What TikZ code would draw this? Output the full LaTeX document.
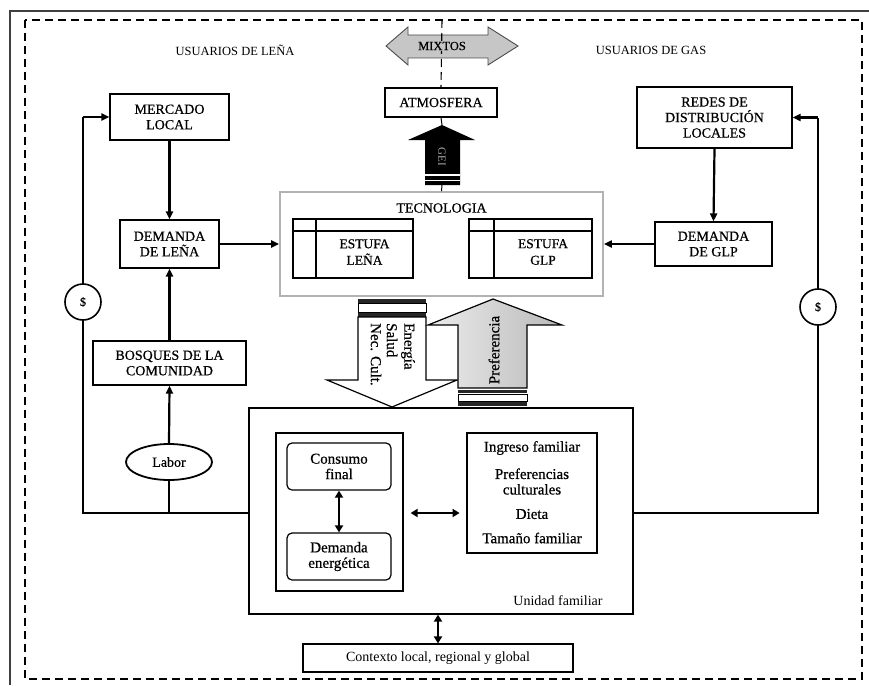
\documentclass[tikz,border=0pt]{standalone}
\usepackage{fontspec}
\setmainfont{Liberation Serif}
\newfontfamily\heavyfont{Liberation Serif}[FakeBold=0.6]
\usetikzlibrary{arrows.meta,shapes.geometric}
\newcommand\capsfnt{\heavyfont\fontsize{14}{15.5}\selectfont}
\newcommand\topfnt{\fontsize{12.5}{14}\selectfont}
\newcommand\lowfnt{\heavyfont\fontsize{15}{15.5}\selectfont}
\newcommand\rotfnt{\heavyfont\fontsize{15}{16}\selectfont}
\begin{document}
\begin{tikzpicture}[x=1pt,y=-1pt,
  box/.style={draw, line width=1.2pt, rectangle, inner sep=0pt, align=center, font=\capsfnt},
  rbox/.style={draw, line width=1.2pt, rectangle, rounded corners=5pt, inner sep=0pt, align=center, font=\lowfnt},
  lowtxt/.style={inner sep=0pt, align=center, font=\lowfnt},
  toplbl/.style={inner sep=0pt, font=\topfnt},
  frameline/.style={line width=1.2pt, black!75},
  dashfr/.style={line width=1.3pt, dash pattern=on 8pt off 5pt},
  conn/.style={line width=2.2pt, -{Triangle[length=8pt,width=7pt]}},
  fb/.style={line width=2.2pt},
  dconn/.style={line width=2.6pt, {Triangle[length=7pt,width=8pt]}-{Triangle[length=7pt,width=8pt]}},
  dollar/.style={draw, circle, line width=1.6pt, fill=white, minimum size=36pt, inner sep=0pt, font=\heavyfont\fontsize{12}{12}\selectfont},
]
\useasboundingbox (0,0) rectangle (869,685);

% outer frames
\draw[frameline] (10,685) -- (10,11) -- (869,11);
\draw[dashfr] (25,20) rectangle (862,679);

% top labels
\node[toplbl] (ulena) at (235,50) {USUARIOS DE LEÑA};
\node[toplbl] (ugas) at (651,50) {USUARIOS DE GAS};

% MIXTOS double arrow
\path[draw=black!70, fill=gray!45, line width=0.9pt]
  (386,46) -- (408,27) -- (408,35) -- (488,35) -- (488,27) -- (518,46)
  -- (488,65) -- (488,58) -- (408,58) -- (408,65) -- cycle;
\coordinate (dtop) at (442,20);

% boxes
\node[box, minimum width=112, minimum height=29] (atmos) at (441,102.5) {ATMOSFERA};
\draw[dashfr, line width=1.1pt] (dtop) -- (atmos.north);
\node[inner sep=1pt, fill=gray!45, font=\heavyfont\fontsize{12.5}{14}\selectfont] (mixtos) at (442,46) {MIXTOS};

% GEI arrow
\coordinate (geitip) at (442,125);
\coordinate (geibase) at (442,185);
\fill[black] (425,185) -- (425,140) -- (408,140) -- (geitip) -- (475,140) -- (460,140) -- (460,185) -- cycle;
\draw[white, line width=1.2pt] (425,175) -- (460,175) (425,180.5) -- (460,180.5);
\node[rotate=-90, text=gray!65, inner sep=0pt, font=\fontsize{11}{12}\selectfont] (gei) at (442,157) {GEI};
\draw[line width=1pt] (atmos.south) -- (geitip);

\node[box, draw=gray!60, line width=1.8pt, minimum width=323, minimum height=104] (tecno) at (441.5,244) {};
\draw[line width=1pt] (geibase) -- (tecno.north);
\node[inner sep=0pt, font=\capsfnt] (tectxt) at (441.5,208) {TECNOLOGIA};

% stoves
\node[box, minimum width=120, minimum height=59] (estl) at (353,248.5) {};
\draw[line width=1.2pt] (293,231) -- (413,231) (316,219) -- (316,278);
\node[inner sep=0pt, align=center, font=\heavyfont\fontsize{13.5}{16.5}\selectfont] (estltxt) at (364.5,252) {ESTUFA\\LEÑA};
\node[box, minimum width=123, minimum height=59] (estg) at (530.5,248.5) {};
\draw[line width=1.2pt] (469,231) -- (592,231) (494,219) -- (494,278);
\node[inner sep=0pt, align=center, font=\heavyfont\fontsize{13.5}{16.5}\selectfont] (estgtxt) at (543,252) {ESTUFA\\GLP};

% left side
\node[box, minimum width=119, minimum height=46] (mercado) at (169.5,117) {MERCADO\\LOCAL};
\node[box, minimum width=99, minimum height=48] (demlena) at (169.5,244) {DEMANDA\\DE LEÑA};
\node[box, minimum width=153, minimum height=44] (bosques) at (169.5,363) {BOSQUES DE LA\\COMUNIDAD};
\node[draw, ellipse, line width=1.8pt, minimum width=86, minimum height=36, inner sep=0pt, font=\heavyfont\fontsize{14}{15}\selectfont] (labor) at (169,462) {Labor};

% right side
\node[box, minimum width=155, minimum height=61] (redes) at (714.5,117.5) {REDES DE\\DISTRIBUCIÓN\\LOCALES};
\node[box, minimum width=117, minimum height=44] (demglp) at (713.5,244) {DEMANDA\\DE GLP};

% household
\node[box, minimum width=384, minimum height=206] (unidad) at (441,511) {};
\node[inner sep=0pt, font=\fontsize{14}{15}\selectfont] (unitxt) at (558,601) {Unidad familiar};
\node[box, minimum width=127, minimum height=158] (innerl) at (339.5,512) {};
\node[rbox, minimum width=104, minimum height=47] (consumo) at (339,466.5) {Consumo\\final};
\node[rbox, minimum width=104, minimum height=47] (demener) at (339,556.5) {Demanda\\energética};
\node[box, minimum width=130, minimum height=120] (innerr) at (532,493) {};
\node[lowtxt] (ingreso) at (532,448) {Ingreso familiar};
\node[lowtxt] (prefcult) at (532,481.5) {Preferencias\\culturales};
\node[lowtxt] (dieta) at (532,514) {Dieta};
\node[lowtxt] (tamano) at (532,538) {Tamaño familiar};

\node[box, line width=1.1pt, minimum width=270, minimum height=28, font=\fontsize{14}{15}\selectfont] (contexto) at (438,658) {Contexto local, regional y global};

% connectors
\draw[conn] (mercado.south) -- (demlena.north);
\draw[conn] (bosques.north) -- (demlena.south);
\draw[conn] (labor.north) -- (bosques.south);
\draw[conn] (demlena.east) -- (tecno.west);
\draw[conn] (redes.south) -- (demglp.north);
\draw[conn] (demglp.west) -- (tecno.east);

\draw[dconn] (consumo.south) -- (demener.north);
\draw[dconn] (innerl.east |- 0,513) ++(7,0) coordinate (ha) -- ++(49,0) coordinate (hb);
\draw[dconn] (unidad.south -| contexto.north) -- (contexto.north);

% feedback loops
\coordinate (lc) at (83,513);
\coordinate (rc) at (818,513);
\draw[fb] (unidad.west |- lc) -- (lc) -- (lc |- mercado.west);
\draw[conn] (lc |- mercado.west) -- (mercado.west);
\draw[fb] (labor.south) -- (labor.south |- lc);
\draw[fb] (unidad.east |- rc) -- (rc) -- (rc |- redes.east);
\draw[conn] (rc |- redes.east) -- (redes.east);
\node[dollar] (dl) at (83,302) {\$};
\node[dollar] (dr) at (818,307) {\$};

% down arrow (white)
\fill[black!85] (358,299) rectangle (426,302.5);
\draw[line width=0.9pt] (358,303.5) rectangle (426,312);
\fill[black!85] (358,313) rectangle (426,317);
\path[draw, fill=white, line width=1.2pt] (358,317) -- (358,380) -- (327,380) -- (392,407) -- (457,380) -- (426,380) -- (426,317) -- cycle;
\node[rotate=-90, anchor=west, inner sep=0pt, font=\rotfnt] (energia) at (408,323) {Energía};
\node[rotate=-90, anchor=west, inner sep=0pt, font=\rotfnt] (salud) at (392,323) {Salud};
\node[rotate=-90, anchor=west, inner sep=0pt, font=\rotfnt] (neccult) at (376,323) {Nec. Cult.};

% up arrow (grey)
\path[draw, line width=1.2pt, left color=gray!15, right color=gray!55] (458,388) -- (458,325) -- (428,325) -- (493,299) -- (562,325) -- (527,325) -- (527,388) -- cycle;
\fill[black!85] (458,390) rectangle (527,393);
\draw[line width=0.9pt] (458,394) rectangle (527,401);
\fill[black!85] (458,402) rectangle (527,405.5);
\node[rotate=90, inner sep=0pt, font=\rotfnt] (pref) at (494,350) {Preferencia};

\end{tikzpicture}
\end{document}
